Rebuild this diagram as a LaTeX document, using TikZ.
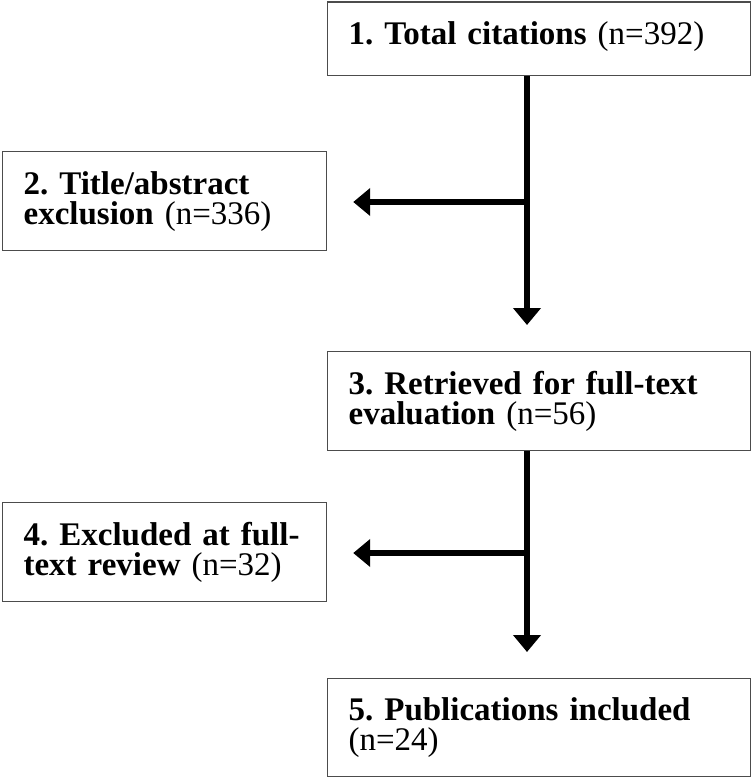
\documentclass[tikz,border=0pt]{standalone}
\usepackage{fontspec}
\setmainfont{Liberation Serif}
\usetikzlibrary{calc,positioning}
\usetikzlibrary{arrows.meta}
\tikzset{>={Triangle[width=27pt,length=17pt]}}

\begin{document}
\begin{tikzpicture}[x=1pt,y=-1pt]
          \tikzstyle{rbox} = [draw=black!70, line width=1.2pt, anchor=north west, inner xsep=21pt, inner ysep=0pt, text width=381pt, align=left, font=\fontsize{33}{30}\selectfont\frenchspacing]
          \tikzstyle{lbox} = [rbox, text width=282pt]
          \tikzstyle{flow} = [line width=6pt, ->, shorten >=26pt]
          \useasboundingbox (0,0) rectangle (752,778);

            \node[rbox, minimum height=73.5pt, text depth=12pt] (total) at (327,1.5) {\textbf{1. Total citations} (n=392)};
            \node[lbox, minimum height=99pt] (title) at (2,151) {\textbf{2. Title/abstract}\\ \textbf{exclusion} (n=336)};
            \node[rbox, minimum height=99pt] (retrieved) at (327,351) {\textbf{3. Retrieved for full-text}\\ \textbf{evaluation} (n=56)};
            \node[lbox, minimum height=99pt] (excluded) at (2,502) {\textbf{4. Excluded at full-}\\ \textbf{text review} (n=32)};
            \node[rbox, minimum height=98pt] (included) at (327,678) {\textbf{5. Publications included}\\ (n=24)};

            \coordinate (s1) at (527,202);
            \coordinate (s2) at (527,553);

            \draw[flow] (s1 |- total.south) to (s1 |- retrieved.north);
            \draw[flow] (s1) to (s1 -| title.east);

            \draw[flow] (s2 |- retrieved.south) to (s2 |- included.north);
            \draw[flow] (s2) to (s2 -| excluded.east);
        \end{tikzpicture}
\end{document}
